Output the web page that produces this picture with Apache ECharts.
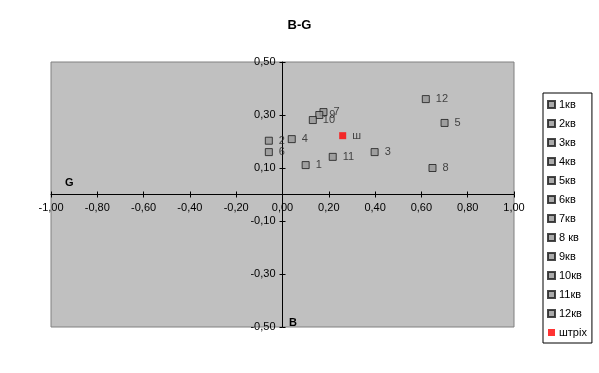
<!DOCTYPE html>
<html><head><meta charset="utf-8">
<script src="https://cdn.jsdelivr.net/npm/echarts@6/dist/echarts.min.js"></script>
<style>html,body{margin:0;padding:0;background:#fff}#c{width:599px;height:373px}</style>
</head><body><div id="c"></div>
<script>
var seriesNames = ['1кв','2кв','3кв','4кв','5кв','6кв','7кв','8 кв','9кв','10кв','11кв','12кв','штріх'];
var pointLabels = ['1','2','3','4','5','6','7','8','9','10','11','12','ш'];
var gValues = [0.100,-0.059,0.398,0.040,0.700,-0.059,0.177,0.648,0.159,0.131,0.217,0.619,0.260];
var bValues = [0.111,0.203,0.160,0.209,0.270,0.160,0.311,0.100,0.300,0.281,0.142,0.360,0.222];
var xTicks = {min:-1, max:1, interval:0.2};
var yTicks = {min:-0.5, max:0.5, interval:0.2};

var FONT = '"Liberation Sans", Arial, sans-serif';
function fmt(v){ return v.toFixed(2).replace('.', ','); }

var W = 599, H = 373;
var grid = {left:51, right:85, top:62, bottom:46};
var gw = W - grid.left - grid.right, gh = H - grid.top - grid.bottom;
// shift axes from the grid edge to the zero crossing of the other axis
var xOff = -gh * (0 - yTicks.min) / (yTicks.max - yTicks.min);
var yOff = -gw * (0 - xTicks.min) / (xTicks.max - xTicks.min);

var series = seriesNames.map(function(name, i){
  var last = (i === seriesNames.length - 1);
  return {
    name: name,
    type: 'scatter',
    xAxisIndex: 0, yAxisIndex: 0,
    symbol: 'rect',
    symbolSize: 7,
    itemStyle: last ? {color:'#ff0000', borderWidth:0} : {color:'#969696', borderColor:'#1a1a1a', borderWidth:1},
    label: {show:true, position:'right', distance:6, formatter: pointLabels[i], fontFamily:FONT, fontSize:11, color:'#222'},
    data: [[gValues[i], bValues[i]]],
    z: 5
  };
});

function xAx(main){
  return {type:'value', position:'bottom', offset:xOff, min:xTicks.min, max:xTicks.max, interval:xTicks.interval,
    splitLine:{show:false},
    axisLine:{show:main, onZero:false, lineStyle:{color:'#000', width:1}},
    axisTick:{show:true, inside:!main, length:3, lineStyle:{color:'#000'}},
    axisLabel:{show:main, margin:8, formatter:fmt, fontFamily:FONT, fontSize:11, color:'#000', showMinLabel:true, showMaxLabel:true}};
}
function yAx(main){
  return {type:'value', position:'left', offset:yOff, min:yTicks.min, max:yTicks.max, interval:yTicks.interval,
    splitLine:{show:false},
    axisLine:{show:main, onZero:false, lineStyle:{color:'#000', width:1}},
    axisTick:{show:true, inside:!main, length:3, lineStyle:{color:'#000'}},
    axisLabel:{show:main, margin:7, formatter:fmt, fontFamily:FONT, fontSize:11, color:'#000', showMinLabel:true, showMaxLabel:true}};
}

var chart = echarts.init(document.getElementById('c'));
chart.setOption({
  animation:false,
  backgroundColor:'#ffffff',
  title:{text:'B-G', left:'center', top:14, textStyle:{fontFamily:FONT, fontSize:13, fontWeight:'bold', color:'#000'}},
  grid:{left:grid.left, right:grid.right, top:grid.top, bottom:grid.bottom, show:true, backgroundColor:'#c0c0c0', borderColor:'#808080', borderWidth:1},
  legend:{
    orient:'vertical', left:543, top:93, width:46,
    data: seriesNames,
    icon:'rect', itemWidth:7, itemHeight:7, itemGap:8,
    borderColor:'#000', borderWidth:1, padding:[6,5,5,4],
    textStyle:{fontFamily:FONT, fontSize:11, color:'#000', padding:[0,0,0,-1]},
    selectedMode:false
  },
  xAxis:[xAx(true), xAx(false)],
  yAxis:[yAx(true), yAx(false)],
  graphic:[
    {type:'text', left:65, top:177, z:10, style:{text:'G', font:'bold 11px '+FONT, fill:'#000'}},
    {type:'text', left:289, top:317, z:10, style:{text:'B', font:'bold 11px '+FONT, fill:'#000'}}
  ],
  series: series
});
</script>
</body></html>
